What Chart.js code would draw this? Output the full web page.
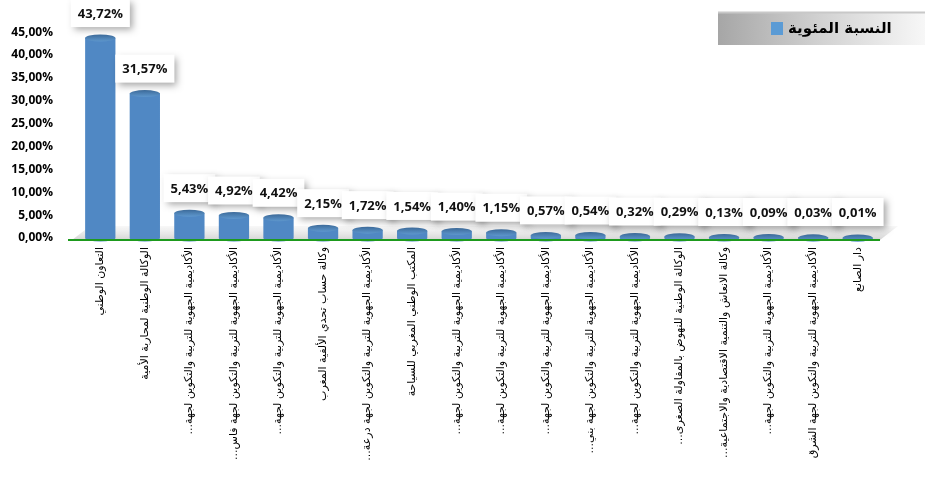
<!DOCTYPE html>
<html>
<head>
<meta charset="utf-8">
<script src="https://cdn.jsdelivr.net/npm/chart.js@4/dist/chart.umd.min.js"></script>
<style>
  html, body { margin: 0; background: #fff; }
  #wrap { width: 927px; height: 480px; position: relative; }
</style>
</head>
<body>
<div id="wrap"><canvas id="myChart" dir="rtl"></canvas></div>
<script>
const categories = [
  "التعاون الوطني",
  "الوكالة الوطنية لمحاربة الأمية",
  "الأكاديمية الجهوية للتربية والتكوين لجهة...",
  "الأكاديمية الجهوية للتربية والتكوين لجهة فاس...",
  "الأكاديمية الجهوية للتربية والتكوين لجهة...",
  "وكالة حساب تحدي الألفية المغرب",
  "الأكاديمية الجهوية للتربية والتكوين لجهة درعة...",
  "المكتب الوطني المغربي للسياحة",
  "الأكاديمية الجهوية للتربية والتكوين لجهة...",
  "الأكاديمية الجهوية للتربية والتكوين لجهة...",
  "الأكاديمية الجهوية للتربية والتكوين لجهة...",
  "الأكاديمية الجهوية للتربية والتكوين لجهة بني...",
  "الأكاديمية الجهوية للتربية والتكوين لجهة...",
  "الوكالة الوطنية للنهوض بالمقاولة الصغرى...",
  "وكالة الانعاش والتنمية الاقتصادية والاجتماعية...",
  "الأكاديمية الجهوية للتربية والتكوين لجهة...",
  "الأكاديمية الجهوية للتربية والتكوين لجهة الشرق",
  "دار الصانع"
];
const percentages = [43.72, 31.57, 5.43, 4.92, 4.42, 2.15, 1.72, 1.54, 1.40, 1.15, 0.57, 0.54, 0.32, 0.29, 0.13, 0.09, 0.03, 0.01];
const seriesName = "النسبة المئوية";
const yMax = 45;
const yStep = 5;

const fmt = v => v.toFixed(2).replace(".", ",") + "%";

// cylinder look, floor, value boxes and legend
const excelLook = {
  id: "excelLook",
  beforeDatasetsDraw(chart) {
    const { ctx, chartArea: a } = chart;
    // grey 3d floor
    ctx.save();
    const g = ctx.createLinearGradient(0, a.bottom - 12, 0, a.bottom + 2);
    g.addColorStop(0, "rgba(230,230,230,0.3)");
    g.addColorStop(1, "#d4d4d4");
    ctx.fillStyle = g;
    ctx.beginPath();
    ctx.moveTo(a.left - 6, a.bottom + 2);
    ctx.lineTo(a.right, a.bottom + 2);
    ctx.lineTo(a.right + 18, a.bottom - 12);
    ctx.lineTo(a.left + 12, a.bottom - 12);
    ctx.closePath();
    ctx.fill();
    ctx.restore();

    chart.getDatasetMeta(0).data.forEach(el => {
      const x0 = el.x - el.width / 2, x1 = el.x + el.width / 2;
      const bg = ctx.createLinearGradient(x0, 0, x1, 0);
      bg.addColorStop(0, "#5088c4");
      bg.addColorStop(0.25, "#67a5df");
      bg.addColorStop(0.75, "#5b9ad4");
      bg.addColorStop(1, "#3f74aa");
      el.options.backgroundColor = bg;
    });
  },
  afterDatasetsDraw(chart) {
    const { ctx, chartArea: a } = chart;
    const meta = chart.getDatasetMeta(0);
    ctx.save();
    ctx.direction = "ltr";
    meta.data.forEach(el => {
      const rx = el.width / 2, ry = 3.5;
      // rounded bottom
      ctx.fillStyle = "#5088c4";
      ctx.beginPath();
      ctx.ellipse(el.x, el.base, rx, ry, 0, 0, Math.PI);
      ctx.fill();
      // top cap
      const cg = ctx.createLinearGradient(0, el.y - ry, 0, el.y + ry);
      cg.addColorStop(0, "#3d6c9c");
      cg.addColorStop(1, "#5e97cd");
      ctx.fillStyle = cg;
      ctx.beginPath();
      ctx.ellipse(el.x, el.y, rx, ry, 0, 0, Math.PI * 2);
      ctx.fill();
    });
    // green axis line
    ctx.strokeStyle = "#1d9a1d";
    ctx.lineWidth = 2;
    ctx.beginPath();
    ctx.moveTo(a.left - 10, a.bottom + 2);
    ctx.lineTo(a.right, a.bottom + 2);
    ctx.stroke();

    // value boxes
    ctx.font = "bold 13px 'Open Sans'";
    ctx.textAlign = "center";
    ctx.textBaseline = "middle";
    meta.data.forEach((el, i) => {
      const txt = fmt(percentages[i]);
      const w = ctx.measureText(txt).width + 14, h = 28;
      const bottom = Math.min(el.y - 11, a.bottom - 12);
      const top = bottom - h;
      if (el.y - bottom > 14) {
        ctx.strokeStyle = "#777";
        ctx.lineWidth = 1;
        ctx.beginPath();
        ctx.moveTo(el.x, bottom);
        ctx.lineTo(el.x, el.y);
        ctx.stroke();
      }
      ctx.save();
      ctx.shadowColor = "rgba(0,0,0,0.35)";
      ctx.shadowBlur = 7;
      ctx.shadowOffsetX = 3;
      ctx.shadowOffsetY = 3;
      ctx.fillStyle = "#fff";
      ctx.fillRect(el.x - w / 2, top, w, h);
      ctx.restore();
      ctx.fillStyle = "#111";
      ctx.fillText(txt, el.x, top + h / 2 + 1);
    });

    // legend box
    const lx = 718, ly = 12, lw = 207, lh = 33;
    const lg = ctx.createLinearGradient(lx, 0, lx + lw, 0);
    lg.addColorStop(0, "#a6a6a6");
    lg.addColorStop(0.5, "#d2d2d2");
    lg.addColorStop(1, "#f7f7f7");
    ctx.fillStyle = lg;
    ctx.fillRect(lx, ly, lw, lh);
    ctx.strokeStyle = "#c8c8c8";
    ctx.beginPath();
    ctx.moveTo(lx, ly + 0.5);
    ctx.lineTo(lx + lw, ly + 0.5);
    ctx.stroke();
    ctx.fillStyle = "#5b9bd5";
    ctx.fillRect(771, 22, 12, 13);
    ctx.fillStyle = "#000";
    ctx.font = "bold 15px 'DejaVu Sans'";
    ctx.textAlign = "left";
    ctx.direction = "rtl";
    ctx.fillText(seriesName, 788, 29);
    ctx.restore();
  }
};

new Chart(document.getElementById("myChart"), {
  type: "bar",
  data: {
    labels: categories,
    datasets: [{
      label: seriesName,
      data: percentages,
      backgroundColor: "#5b9bd5",
      borderWidth: 0,
      barPercentage: 0.68,
      categoryPercentage: 1
    }]
  },
  options: {
    responsive: true,
    maintainAspectRatio: false,
    animation: false,
    layout: { padding: { top: 30, right: 47, left: 0, bottom: 0 } },
    plugins: {
      legend: { display: false },
      tooltip: { enabled: false }
    },
    scales: {
      x: {
        grid: { display: false, drawTicks: false },
        border: { display: false },
        afterFit: s => { s.height = 242; },
        ticks: {
          autoSkip: false,
          minRotation: 90,
          maxRotation: 90,
          padding: 9,
          color: "#000",
          font: { size: 11, family: "DejaVu Sans" }
        }
      },
      y: {
        min: 0,
        max: yMax,
        grid: { display: false, drawTicks: false },
        border: { display: false },
        afterFit: s => { s.width = 78; },
        ticks: {
          stepSize: yStep,
          padding: 25,
          color: "#000",
          font: { size: 12, weight: "bold", family: "Open Sans" },
          callback: v => fmt(v)
        }
      }
    }
  },
  plugins: [excelLook]
});
</script>
</body>
</html>
